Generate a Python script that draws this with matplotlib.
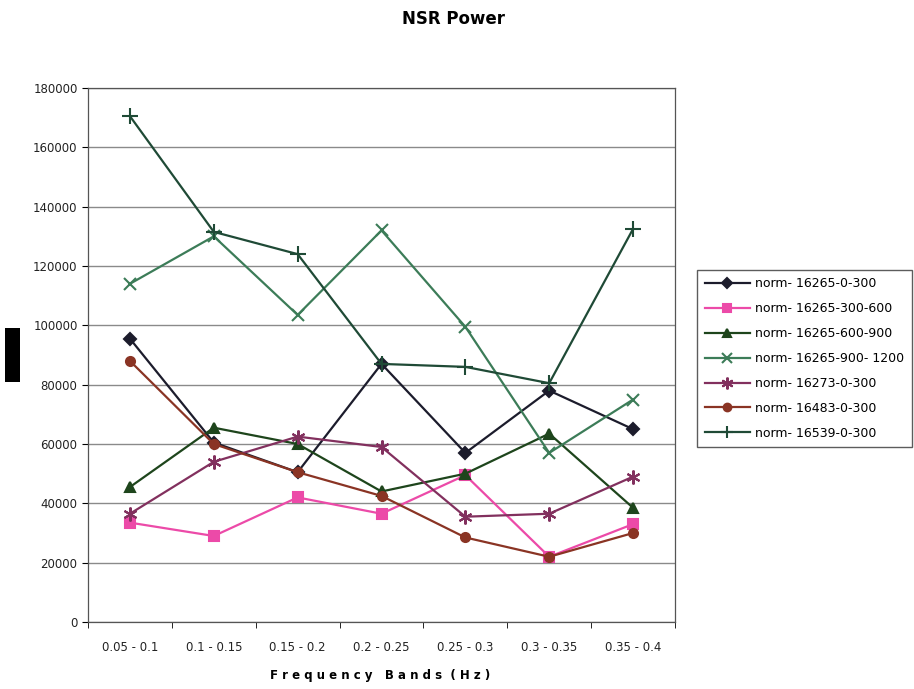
import matplotlib
matplotlib.use("Agg")
import matplotlib.pyplot as plt
import numpy as np
from matplotlib.patches import Rectangle

# Frequency bands and power for each recording
bands = ["0.05 - 0.1", "0.1 - 0.15", "0.15 - 0.2", "0.2 - 0.25", "0.25 - 0.3", "0.3 - 0.35", "0.35 - 0.4"]

p_16265_0_300 = [95500, 60500, 50500, 87000, 57000, 78000, 65000]
p_16265_300_600 = [33500, 29000, 42000, 36500, 49500, 22000, 33000]
p_16265_600_900 = [45500, 65500, 60000, 44000, 50000, 63500, 38500]
p_16265_900_1200 = [114000, 130000, 103500, 132000, 99500, 57000, 75000]
p_16273_0_300 = [36500, 54000, 62500, 59000, 35500, 36500, 49000]
p_16483_0_300 = [88000, 60000, 50500, 42500, 28500, 22000, 30000]
p_16539_0_300 = [170500, 131500, 124000, 87000, 86000, 80500, 132500]

series = [
    ("norm- 16265-0-300", p_16265_0_300, "#1c1c2c", "D", 6.5),
    ("norm- 16265-300-600", p_16265_300_600, "#ec4aa8", "s", 6.5),
    ("norm- 16265-600-900", p_16265_600_900, "#1e451c", "^", 7.5),
    ("norm- 16265-900- 1200", p_16265_900_1200, "#3c7c58", "x", 9),
    ("norm- 16273-0-300", p_16273_0_300, "#82305e", (6, 2, 0), 10),
    ("norm- 16483-0-300", p_16483_0_300, "#8a3424", "o", 6.5),
    ("norm- 16539-0-300", p_16539_0_300, "#1f4a36", "+", 11),
]

fig = plt.figure(figsize=(9.14, 6.89), dpi=100)
ax = fig.add_axes([0.0963, 0.0972, 0.6422, 0.7751])

x = np.arange(len(bands))
for label, vals, color, marker, ms in series:
    ax.plot(x, vals, color=color, marker=marker, markersize=ms, linewidth=1.6,
            markeredgewidth=1.5, label=label)

ax.set_xlim(-0.5, len(bands) - 0.5)
ax.set_ylim(0, 180000)
ax.set_yticks(np.arange(0, 180001, 20000))
ax.set_yticklabels([str(v) for v in range(0, 180001, 20000)], fontsize=8.5, color="#222222")
ax.set_xticks(x)
ax.set_xticklabels(bands, fontsize=8.5, color="#222222")
ax.set_xticks(np.arange(-0.5, len(bands), 1), minor=True)
ax.tick_params(axis="x", which="major", length=0, pad=14)
ax.tick_params(axis="x", which="minor", length=4, direction="out")
ax.tick_params(axis="y", length=4, direction="out")
ax.grid(axis="y", color="#8a8a8a", linewidth=1)
ax.set_axisbelow(True)
for s in ax.spines.values():
    s.set_color("#555555")
    s.set_linewidth(0.9)

fig.text(0.496, 0.972, "NSR Power", ha="center", va="center", fontsize=12, fontweight="bold")
fig.text(0.416, 0.02, "F r e q u e n c y   B a n d s  ( H z )", ha="center", va="center",
         fontsize=8.5, fontweight="bold")

leg = ax.legend(loc="center left", bbox_to_anchor=(0.7626, 0.3396, 0.235, 0.28),
                bbox_transform=fig.transFigure, mode="expand", fontsize=9,
                frameon=True, fancybox=False, edgecolor="#333333", handlelength=3.6,
                handletextpad=0.4, labelspacing=0.95, borderpad=0.6, borderaxespad=0,
                markerscale=0.85)
leg.get_frame().set_linewidth(1)

fig.patches.append(Rectangle((0.0055, 0.4456), 0.0164, 0.078, transform=fig.transFigure,
                             facecolor="black", edgecolor="none"))

fig.savefig("out.png", dpi=100)
